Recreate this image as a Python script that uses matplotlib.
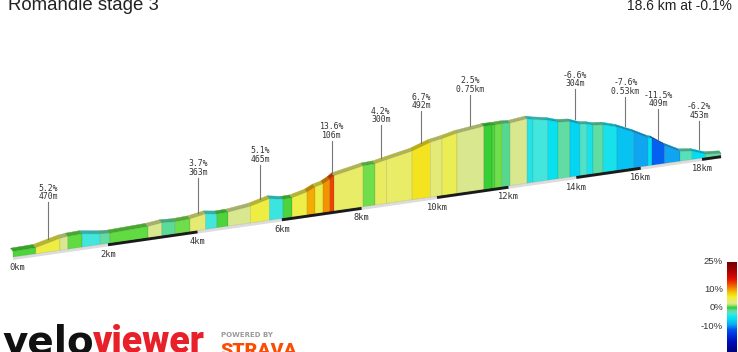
import numpy as np
import matplotlib
matplotlib.use("Agg")
import matplotlib.pyplot as plt
from matplotlib.colors import LinearSegmentedColormap, Normalize, to_rgb
from matplotlib.patches import Polygon

# route profile: distance [km] / elevation [m] at every gradient change
distance = [0.00, 0.47, 0.97, 1.14, 1.44, 1.83, 2.04, 2.88, 3.19, 3.49,
            3.83, 4.19, 4.45, 4.71, 5.24, 5.70, 6.03, 6.25, 6.62, 6.82,
            7.02, 7.19, 7.30, 8.04, 8.35, 8.65, 9.33, 9.82, 10.14, 10.55,
            11.30, 11.53, 11.62, 11.82, 12.05, 12.54, 12.71, 13.15, 13.45, 13.81,
            14.11, 14.33, 14.51, 14.82, 15.25, 15.78, 16.23, 16.36, 16.77, 17.27,
            17.67, 18.12, 18.64]
elevation = [600.0, 602.4, 628.4, 632.6, 635.0, 623.3, 620.2, 626.9, 634.6, 631.0,
             634.4, 647.7, 639.9, 641.2, 654.5, 678.0, 666.4, 667.5, 686.0, 705.0,
             715.0, 732.9, 747.8, 777.4, 780.5, 793.1, 820.3, 853.1, 864.3, 882.8,
             901.5, 901.5, 902.0, 904.0, 901.7, 913.9, 906.3, 893.1, 876.6, 871.2,
             851.4, 845.9, 836.9, 832.2, 810.7, 770.5, 730.0, 722.2, 675.0, 630.0,
             622.0, 594.1, 586.3]

# labelled steepest segments
label_km = [0.72, 4.01, 5.47, 7.245, 8.50, 9.575, 10.925, 13.96, 15.515, 16.565, 17.895]
label_text = ["5.2%\n470m", "3.7%\n363m", "5.1%\n465m", "13.6%\n106m", "4.2%\n300m",
              "6.7%\n492m", "2.5%\n0.75km", "-6.6%\n304m", "-7.6%\n0.53km",
              "-11.5%\n409m", "-6.2%\n453m"]

km_ticks = [0, 2, 4, 6, 8, 10, 12, 14, 16, 18]
scale_ticks = [25, 10, 0, -10]

title = "Romandie stage 3"
summary = "18.6 km at -0.1%"

grad_cmap = LinearSegmentedColormap.from_list("grad", [
    (0.00, "#000070"), (0.14, "#0010c0"), (0.26, "#0050f0"), (0.32, "#10a8f0"),
    (0.38, "#00e0f4"), (0.44, "#44e6dc"), (0.47, "#62dca4"), (0.49, "#46d470"),
    (0.50, "#33cc33"), (0.52, "#66dd44"), (0.53, "#a8e070"), (0.55, "#dce890"),
    (0.58, "#e8ec68"), (0.62, "#f2f028"), (0.66, "#f4d010"), (0.70, "#f4a000"),
    (0.76, "#f05000"), (0.82, "#e01000"), (0.90, "#b00000"), (1.00, "#700000")])
norm = Normalize(-25, 25)

# pseudo 3d projection
X0, Y0 = 13, 257
A, C = 48.98, 0.01553
SLOPE = 0.1437
M_PER_PX = 4.4
PAD = 2.5
emin = min(elevation)


def project(d, e):
    d = np.asarray(d, float)
    s = 1 / (1 + C * d)
    u = A * d * s
    x = X0 + u
    yb = Y0 - SLOPE * u
    h = ((np.asarray(e, float) - emin) / M_PER_PX + PAD) * s
    return x, yb, yb - h, s


fig = plt.figure(figsize=(7.38, 3.52), dpi=100)
ax = fig.add_axes([0, 0, 1, 1])
ax.set_xlim(0, 738)
ax.set_ylim(352, 0)
ax.axis("off")

d = np.array(distance)
e = np.array(elevation)
xs, ybs, yts, ss = project(d, e)
grads = np.diff(e) / np.diff(d) / 10

# ground strip and km bars
ax.plot([xs[0], xs[-1]], [ybs[0] + 1.5, ybs[-1] + 1.5], color="#dcdcdc", lw=2.2,
        solid_capstyle="butt", zorder=1)
for k in km_ticks[1::2]:
    k2 = min(k + 2, d[-1])
    bx, byb, _, _ = project([k, k2], [emin, emin])
    ax.plot(bx, byb + 1.2, color="#1a1a1a", lw=2.4, solid_capstyle="butt", zorder=2)

# top surface strips
for i in range(len(d) - 1):
    col = np.array(to_rgb(grad_cmap(norm(grads[i])))) * 0.76
    ox0, oy0 = -2.5 * ss[i], -3.2 * ss[i]
    ox1, oy1 = -2.5 * ss[i + 1], -3.2 * ss[i + 1]
    poly = [(xs[i], yts[i]), (xs[i + 1], yts[i + 1]),
            (xs[i + 1] + ox1, yts[i + 1] + oy1), (xs[i] + ox0, yts[i] + oy0)]
    ax.add_patch(Polygon(poly, closed=True, facecolor=col, edgecolor=col, lw=0.3, zorder=3))

# front faces
for i in range(len(d) - 1):
    col = grad_cmap(norm(grads[i]))
    poly = [(xs[i], ybs[i]), (xs[i], yts[i]), (xs[i + 1], yts[i + 1]), (xs[i + 1], ybs[i + 1])]
    ax.add_patch(Polygon(poly, closed=True, facecolor=col, edgecolor=(0, 0, 0, 0.12),
                         lw=0.5, zorder=4))

# km labels
for k in km_ticks:
    kx, kyb, _, _ = project(k, emin)
    ax.text(kx + (4 if k == 0 else 0), kyb + 11, f"{k}km", ha="center", va="center",
            fontsize=6.3, family="DejaVu Sans Mono", color="#333333", zorder=5)

# segment labels
for k, txt in zip(label_km, label_text):
    lx, _, lyt, ls = project(k, np.interp(k, d, e))
    top = lyt - 3 * ls
    ax.plot([lx, lx], [top - 1, top - 38 * ls], color="#777777", lw=0.8, zorder=5)
    ax.text(lx, top - 38 * ls - 1, txt, ha="center", va="bottom", fontsize=5.9,
            family="DejaVu Sans Mono", color="#333333", linespacing=0.9, zorder=5)

# title texts (cut by the top edge as in the original)
ax.text(8, 10, title, fontsize=13.4, family="Liberation Sans", color="#222222", va="baseline")
ax.text(732, 10, summary, fontsize=10, family="Liberation Sans", color="#222222",
        va="baseline", ha="right")

# gradient scale
bar = np.linspace(25, -25, 200).reshape(-1, 1)
ax.imshow(bar, cmap=grad_cmap, norm=norm, extent=(727, 737, 354, 262), aspect="auto", zorder=5)
for v in scale_ticks:
    ax.text(723, 262 + (25 - v) / 50 * 92, f"{v}%", ha="right", va="center", fontsize=6.8,
            family="Liberation Sans", color="#333333")

# logo
ax.text(2, 353, "velo", fontsize=28, fontweight="bold", family="DejaVu Sans", color="#111111",
        va="baseline")
ax.text(93, 353, "viewer", fontsize=27, fontweight="black", family="Roboto", color="#e8202a",
        va="baseline")
ax.text(221, 335, "POWERED BY", fontsize=5.0, fontweight="bold", family="DejaVu Sans",
        color="#9a9a9a", va="center")
ax.text(220, 356, "STRAVA", fontsize=14, fontweight="black", family="Roboto", color="#fc4c02",
        va="baseline")

fig.savefig("out.png", dpi=100)
